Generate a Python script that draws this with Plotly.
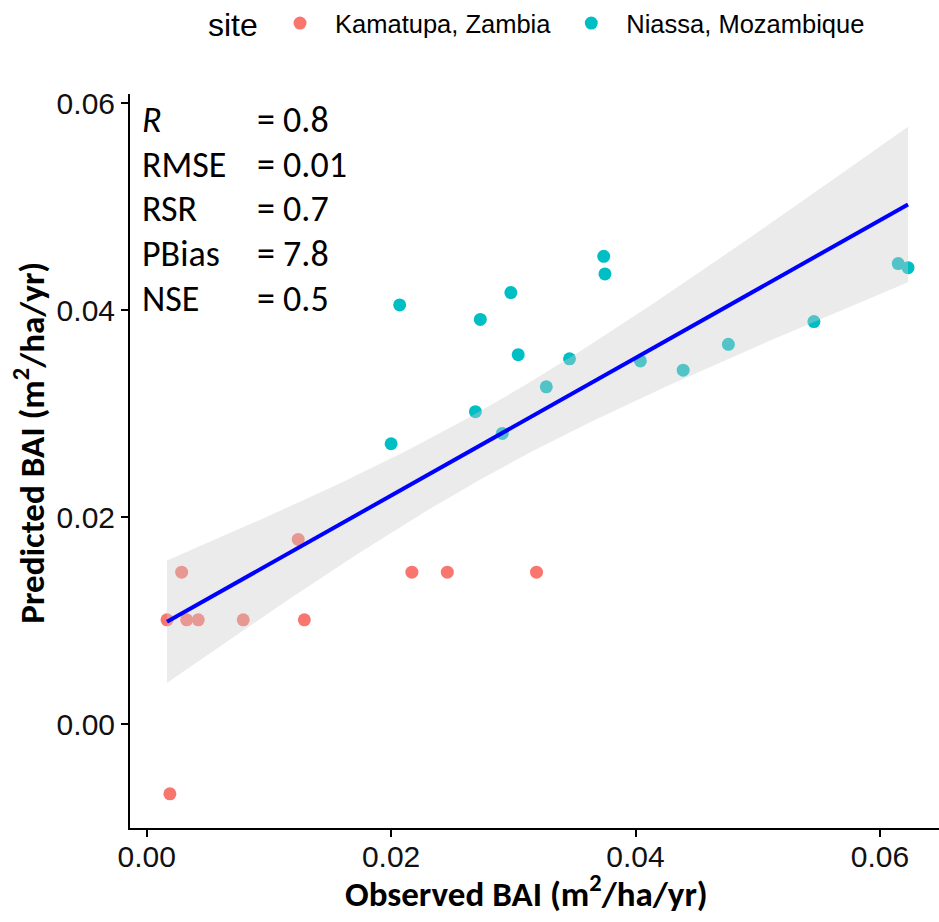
import numpy as np
import plotly.graph_objects as go

# ---- data -----------------------------------------------------------------
site_names = ["Kamatupa, Zambia", "Niassa, Mozambique"]
site_colors = ["#F8766D", "#00BFC4"]

kamatupa_obs = [0.00166, 0.0019, 0.00286, 0.00327, 0.00422, 0.0079,
                0.0124, 0.0129, 0.0217, 0.0246, 0.0319]
kamatupa_pred = [0.0101, -0.0067, 0.0147, 0.0101, 0.0101, 0.0101,
                 0.01786, 0.0101, 0.0147, 0.0147, 0.0147]

niassa_obs = [0.0207, 0.0200, 0.0273, 0.0298, 0.0374, 0.0375, 0.0304,
              0.0346, 0.0327, 0.0269, 0.0291, 0.0404, 0.0439, 0.0476,
              0.0546, 0.0615, 0.0623]
niassa_pred = [0.0405, 0.0271, 0.0391, 0.0417, 0.0452, 0.0435, 0.0357,
               0.0353, 0.0326, 0.0302, 0.0281, 0.0351, 0.0342, 0.0367,
               0.0389, 0.0445, 0.0441]

stat_names = ["<i>R</i>", "RMSE", "RSR", "PBias", "NSE"]
stat_values = ["0.8", "0.01", "0.7", "7.8", "0.5"]

x_ticks = [0.00, 0.02, 0.04, 0.06]
y_ticks = [0.00, 0.02, 0.04, 0.06]

x_title = "<b>Observed BAI (m<sup>2</sup>/ha/yr)</b>"
y_title = "<b>Predicted BAI (m<sup>2</sup>/ha/yr)</b>"
legend_title = "site"

# ---- linear fit with 95% confidence band (as geom_smooth(method = "lm")) --
obs = np.array(kamatupa_obs + niassa_obs)
pred = np.array(kamatupa_pred + niassa_pred)
n = len(obs)
slope, intercept = np.polyfit(obs, pred, 1)
resid = pred - (intercept + slope * obs)
s = np.sqrt(np.sum(resid ** 2) / (n - 2))
sxx = np.sum((obs - obs.mean()) ** 2)
T_975 = 2.0555  # Student t quantile, 26 degrees of freedom

xs = np.linspace(obs.min(), obs.max(), 80)
fit = intercept + slope * xs
se = s * np.sqrt(1.0 / n + (xs - obs.mean()) ** 2 / sxx)
upper = fit + T_975 * se
lower = fit - T_975 * se

# ---- figure ---------------------------------------------------------------
fig = go.Figure()

for name, color, xo, yp in [
    (site_names[0], site_colors[0], kamatupa_obs, kamatupa_pred),
    (site_names[1], site_colors[1], niassa_obs, niassa_pred),
]:
    fig.add_trace(go.Scatter(
        x=xo, y=yp, mode="markers", name=name,
        marker=dict(color=color, size=13, line=dict(width=0)),
    ))

# confidence ribbon sits above the points, as in ggplot layering
fig.add_trace(go.Scatter(
    x=np.concatenate([xs, xs[::-1]]),
    y=np.concatenate([upper, lower[::-1]]),
    fill="toself", fillcolor="rgba(204,204,204,0.4)",
    line=dict(width=0), mode="lines", hoverinfo="skip", showlegend=False,
))
fig.add_trace(go.Scatter(
    x=xs, y=fit, mode="lines", line=dict(color="#0000FF", width=4),
    showlegend=False,
))

# goodness-of-fit statistics block
title_font = "Carlito, Lato, sans-serif"
legend_font = "Liberation Sans, Arial, sans-serif"
for i, (lab, val) in enumerate(zip(stat_names, stat_values)):
    yy = 0.0584 - i * 0.00434
    fig.add_annotation(x=-0.00055, y=yy, xref="x", yref="y", text=lab,
                       showarrow=False, xanchor="left", yanchor="middle",
                       font=dict(family=title_font, size=36, color="black"))
    fig.add_annotation(x=0.00885, y=yy, xref="x", yref="y", text="= " + val,
                       showarrow=False, xanchor="left", yanchor="middle",
                       font=dict(family=title_font, size=36, color="black"))

# axis titles
fig.add_annotation(x=0.49, y=-0.086, xref="paper", yref="paper",
                   text=x_title, showarrow=False,
                   xanchor="center", yanchor="middle",
                   font=dict(family=title_font, size=35, color="black"))
fig.add_annotation(x=-0.1236, y=0.525, xref="paper", yref="paper",
                   text=y_title, showarrow=False, textangle=-90,
                   xanchor="center", yanchor="middle",
                   font=dict(family=title_font, size=35, color="black"))

# legend heading, set beside the horizontal legend
fig.add_annotation(x=0.0937, y=1.0936, xref="paper", yref="paper",
                   text=legend_title, showarrow=False,
                   xanchor="left", yanchor="middle",
                   font=dict(family=legend_font, size=32, color="black"))

axis_common = dict(
    showgrid=False, zeroline=False, showline=True, linecolor="black",
    linewidth=2, ticks="outside", ticklen=7, tickwidth=2, tickcolor="black",
    tickfont=dict(family=legend_font, size=30, color="#111111"),
    tickformat=".2f", automargin=False,
)

fig.update_layout(
    width=939, height=922,
    margin=dict(l=130, r=0, t=91, b=94),
    plot_bgcolor="white", paper_bgcolor="white",
    xaxis=dict(range=[-0.001367, 0.064836], tickvals=x_ticks,
               ticklabelstandoff=-6, **axis_common),
    yaxis=dict(range=[-0.0100, 0.06087], tickvals=y_ticks, **axis_common),
    legend=dict(
        orientation="h", x=0.1669, y=1.0963, xref="paper", yref="paper",
        xanchor="left", yanchor="middle",
        font=dict(family=legend_font, size=25.5, color="black"),
        itemwidth=60, bgcolor="rgba(0,0,0,0)",
    ),
    showlegend=True,
)

fig.write_html("out.html")
